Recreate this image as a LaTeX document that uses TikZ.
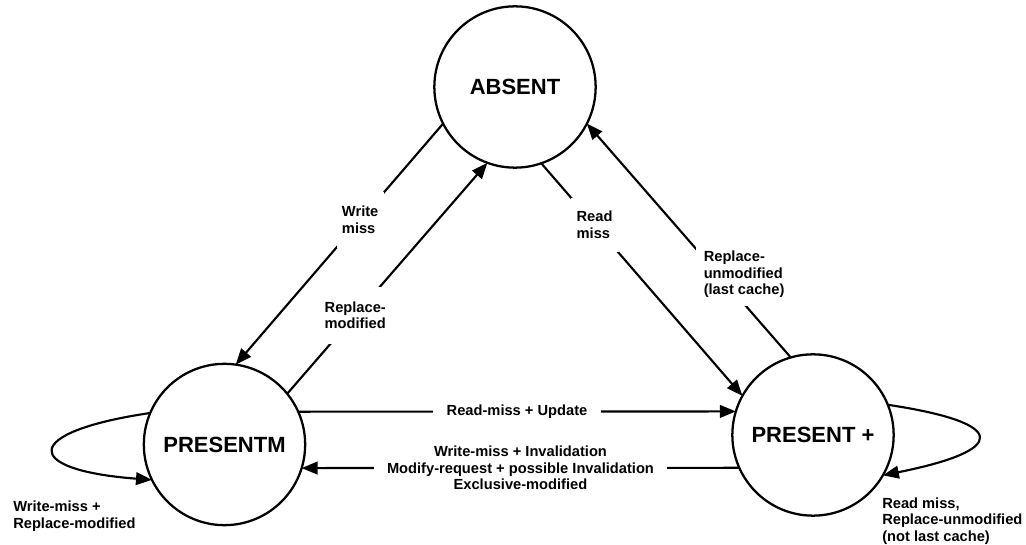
\documentclass[tikz,border=0pt]{standalone}
\usepackage{fontspec}
\setmainfont{Liberation Sans}
\usetikzlibrary{arrows.meta}
\begin{document}
\begin{tikzpicture}[x=0.75pt,y=-0.75pt,
  stnode/.style={circle,draw,line width=1.7pt,minimum size=121pt,inner sep=0pt,outer sep=0pt,
    font=\bfseries\fontsize{16.5}{18}\selectfont},
  edge/.style={line width=1.6pt,-{Triangle[length=12pt,width=9.5pt]}},
  lab/.style={fill=white,font=\bfseries\fontsize{11}{12.5}\selectfont,align=left,inner sep=2pt},
  looplab/.style={font=\bfseries\fontsize{11}{12.5}\selectfont,align=left,inner sep=0pt,anchor=west},
]
\useasboundingbox (0,0) rectangle (1026,545);

% states
\node[stnode] (A) at (515,87)    {ABSENT};
\node[stnode] (M) at (224.5,444.5) {PRESENTM};
\node[stnode] (P) at (813,435)   {PRESENT +};

% diagonal transitions
\draw[edge] (A.207) -- node[lab,pos=0.40,inner xsep=4pt,inner ysep=11pt] (wm) {Write\\miss} (M.82);
\draw[edge] (M.39) -- node[lab,pos=0.34,inner xsep=2pt,inner ysep=11pt] (rm) {Replace-\\modified} (A.250);
\draw[edge] (A.289) -- node[lab,pos=0.265,inner xsep=4.5pt,inner ysep=10pt] (rdm) {Read\\miss} (P.151);
\draw[edge] (P.106) -- node[lab,pos=0.34,xshift=17pt,yshift=2.6pt,inner xsep=6pt,inner ysep=6pt] (ru)
  {Replace-\\unmodified\\(last cache)} (A.333);

% horizontal transitions
\draw[edge] (M.24) -- node[lab,inner xsep=10.5pt,inner ysep=3pt] (ru2) {Read-miss + Update} (P.163);
\draw[edge] (P.204) -- node[lab,align=center,inner xsep=10pt,inner ysep=3pt] (wi)
  {Write-miss + Invalidation\\Modify-request + possible Invalidation\\Exclusive-modified} (M.343);

% self loops
\draw[edge] (M.157) .. controls (21,432) and (21,470) .. (M.206);
\draw[edge] (P.22) .. controls (1009,423) and (1009,450) .. (P.330);

\node[looplab] (lm) at (13,516) {Write-miss +\\Replace-modified};
\node[looplab] (lp) at (882,521) {Read miss,\\Replace-unmodified\\(not last cache)};
\end{tikzpicture}
\end{document}
